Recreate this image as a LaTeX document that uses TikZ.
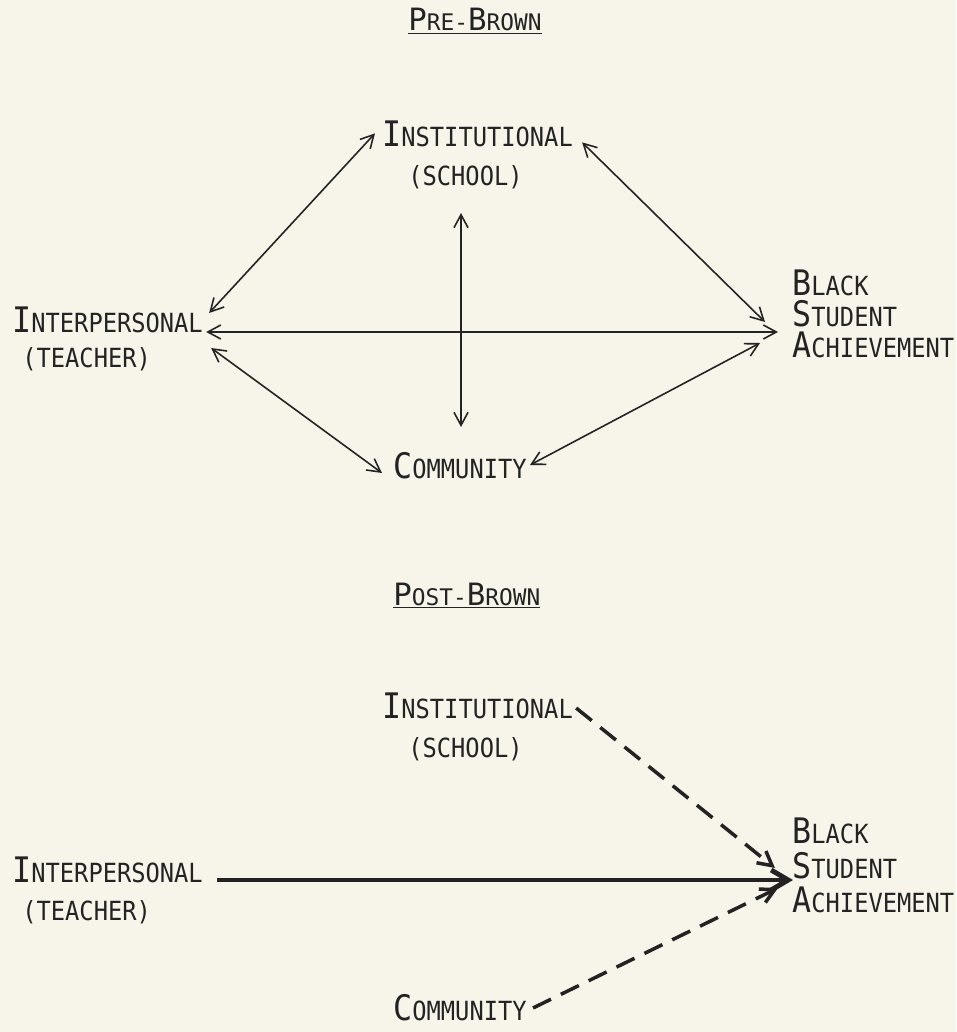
\documentclass[tikz,border=0pt]{standalone}
\usepackage{fontspec}
\usetikzlibrary{arrows.meta}
\newfontfamily\lblfont[FakeStretch=0.9]{DejaVu Sans Mono}
\newfontfamily\ttlfont[FakeStretch=1.0]{DejaVu Sans Mono}
\definecolor{paper}{RGB}{247,244,233}
\definecolor{ink}{RGB}{35,35,35}
\newcommand{\smword}[1]{{\fontsize{15}{18}\selectfont #1}}
\newcommand{\capword}[2]{{\fontsize{20}{24}\selectfont #1}\smword{#2}}
\newcommand{\ttlword}[2]{{\fontsize{17.5}{20}\selectfont #1}{\fontsize{13}{15}\selectfont #2}}

\begin{document}
\begin{tikzpicture}[x=0.2mm,y=-0.2mm,
	lbl/.style={anchor=base west,inner sep=0pt,text=ink,font=\lblfont},
	ttl/.style={anchor=base west,inner sep=0pt,text=ink,font=\ttlfont},
	link/.style={draw=ink,line width=0.9pt,{Straight Barb[length=2.6mm,width=2.8mm]}-{Straight Barb[length=2.6mm,width=2.8mm]}},
	weak/.style={draw=ink,line width=2pt,dash pattern=on 4mm off 2.2mm,-{Straight Barb[length=2.8mm,width=3mm]}},
	strong/.style={draw=ink,line width=2.8pt,-{Straight Barb[length=3.4mm,width=4mm]}}]

	\fill[paper] (0,0) rectangle (956,1032);

%	pre-Brown
	\node[ttl] (tpre) at (408,31) {\underline{\ttlword{P}{RE-}\ttlword{B}{ROWN}}};

	\node[lbl] (inst) at (382,147) {\capword{I}{NSTITUTIONAL}};
	\node[lbl] (school) at (408,186) {\smword{(SCHOOL)}};
	\node[lbl] (ip) at (12,332) {\capword{I}{NTERPERSONAL}};
	\node[lbl] (teacher) at (22,367) {\smword{(TEACHER)}};
	\node[lbl] (black) at (792,295) {\capword{B}{LACK}};
	\node[lbl] (student) at (792,326) {\capword{S}{TUDENT}};
	\node[lbl] (achieve) at (792,357) {\capword{A}{CHIEVEMENT}};
	\node[lbl] (com) at (393,478) {\capword{C}{OMMUNITY}};

	\coordinate (vtop) at (461,213);
	\coordinate (vbot) at (461,427);

	\draw[link] ([shift={(6,-19)}]ip.base east) -- ([shift={(-7,-1)}]inst.west);
	\draw[link] ([shift={(9,8)}]inst.east) -- ([shift={(-27,-4)}]student.base west);
	\draw[link] ([shift={(3,0)}]ip.base east) -- ([shift={(-14,6)}]student.base west);
	\draw[link] ([shift={(8,16)}]ip.base east) -- ([shift={(-11,-5)}]com.base west);
	\draw[link] ([shift={(3,-13)}]com.base east) -- ([shift={(-32,17)}]student.base west);
	\draw[link] (vtop) -- (vbot);

%	post-Brown
	\node[ttl] (tpost) at (393,605) {\underline{\ttlword{P}{OST-}\ttlword{B}{ROWN}}};

	\node[lbl] (inst2) at (382,718) {\capword{I}{NSTITUTIONAL}};
	\node[lbl] (school2) at (408,757) {\smword{(SCHOOL)}};
	\node[lbl] (ip2) at (12,882) {\capword{I}{NTERPERSONAL}};
	\node[lbl] (teacher2) at (22,920) {\smword{(TEACHER)}};
	\node[lbl] (black2) at (792,843) {\capword{B}{LACK}};
	\node[lbl] (student2) at (792,878) {\capword{S}{TUDENT}};
	\node[lbl] (achieve2) at (792,912) {\capword{A}{CHIEVEMENT}};
	\node[lbl] (com2) at (393,1020) {\capword{C}{OMMUNITY}};

	\draw[strong] ([shift={(14,-2)}]ip2.base east) -- ([shift={(1,2)}]student2.base west);
	\draw[weak] ([shift={(3,-10)}]inst2.base east) -- ([shift={(-17,-10)}]student2.base west);
	\draw[weak] ([shift={(6,-12)}]com2.base east) -- ([shift={(-14,10)}]student2.base west);

\end{tikzpicture}
\end{document}
